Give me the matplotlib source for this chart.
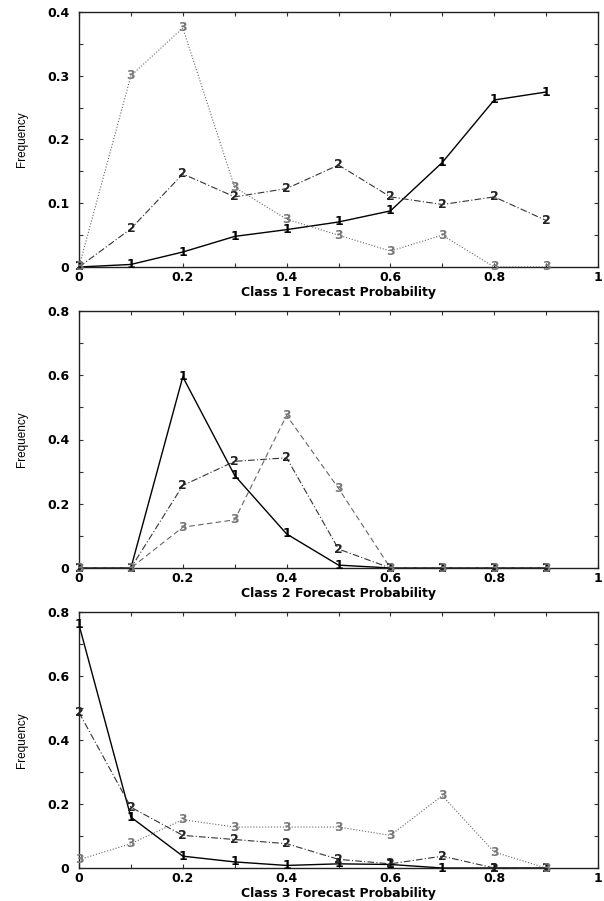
import matplotlib
matplotlib.use("Agg")
import matplotlib.pyplot as plt
from matplotlib.ticker import MultipleLocator, FixedLocator, FixedFormatter

# ---- data ----
x_prob = [0.0, 0.1, 0.2, 0.3, 0.4, 0.5, 0.6, 0.7, 0.8, 0.9]
series_labels = ["1", "2", "3"]

c1_s1 = [0.0, 0.004, 0.0235, 0.048, 0.0586, 0.0706, 0.088, 0.164, 0.262, 0.2745]
c1_s2 = [0.0, 0.060, 0.146, 0.110, 0.123, 0.160, 0.110, 0.098, 0.110, 0.073]
c1_s3 = [0.0, 0.300, 0.375, 0.125, 0.075, 0.050, 0.025, 0.050, 0.0, 0.0]

c2_s1 = [0.0, 0.0, 0.595, 0.288, 0.106, 0.009, 0.0, 0.0, 0.0, 0.0]
c2_s2 = [0.0, 0.0, 0.257, 0.332, 0.343, 0.059, 0.0, 0.0, 0.0, 0.0]
c2_s3 = [0.0, 0.0, 0.127, 0.150, 0.475, 0.248, 0.0, 0.0, 0.0, 0.0]

c3_s1 = [0.76, 0.159, 0.037, 0.019, 0.008, 0.013, 0.011, 0.0, 0.0, 0.0]
c3_s2 = [0.486, 0.190, 0.102, 0.089, 0.076, 0.027, 0.013, 0.037, 0.0, 0.0]
c3_s3 = [0.026, 0.076, 0.151, 0.128, 0.128, 0.128, 0.102, 0.226, 0.050, 0.0]

x_ticks = [0, 0.2, 0.4, 0.6, 0.8, 1]
x_ticklabels = ["0", "0.2", "0.4", "0.6", "0.8", "1"]
y1_ticks = [0, 0.1, 0.2, 0.3, 0.4]
y1_ticklabels = ["0", "0.1", "0.2", "0.3", "0.4"]
y23_ticks = [0, 0.2, 0.4, 0.6, 0.8]
y23_ticklabels = ["0", "0.2", "0.4", "0.6", "0.8"]
xlabels = ["Class 1 Forecast Probability", "Class 2 Forecast Probability",
           "Class 3 Forecast Probability"]
ylabel = "Frequency"

panels = [
    (c1_s1, c1_s2, c1_s3, y1_ticks, y1_ticklabels, 0.4, 0.05, ":"),
    (c2_s1, c2_s2, c2_s3, y23_ticks, y23_ticklabels, 0.8, 0.1, (0, (5, 3))),
    (c3_s1, c3_s2, c3_s3, y23_ticks, y23_ticklabels, 0.8, 0.1, ":"),
]

fig = plt.figure(figsize=(6.04, 9.01), dpi=100)
W, H = 604.0, 901.0
left, right = 79 / W, 598 / W
rects = [(12, 267), (311, 568), (612, 868)]

tick_font = dict(family="DejaVu Sans", weight="bold", size=9)
marker_font = dict(family="DejaVu Sans", weight="bold", size=9)

for i, (s1, s2, s3, yt, ytl, ymax, yminor, s3style) in enumerate(panels):
    top, bot = rects[i]
    ax = fig.add_axes([left, 1 - bot / H, right - left, (bot - top) / H])
    ax.plot(x_prob, s1, color="black", lw=1.0, ls="-")
    ax.plot(x_prob, s2, color="#333333", lw=0.8, ls=(0, (6, 2, 1, 2)))
    ax.plot(x_prob, s3, color="#666666", lw=0.8, ls=s3style)
    for ser, lab, col in zip((s1, s2, s3), series_labels, ("black", "#222222", "#777777")):
        for xv, yv in zip(x_prob, ser):
            ax.text(xv, yv, lab, ha="center", va="center", color=col,
                    clip_on=False, **marker_font)
    ax.set_xlim(0, 1)
    ax.set_ylim(0, ymax)
    ax.xaxis.set_major_locator(FixedLocator(x_ticks))
    ax.xaxis.set_major_formatter(FixedFormatter(x_ticklabels))
    ax.xaxis.set_minor_locator(MultipleLocator(0.1))
    ax.yaxis.set_major_locator(FixedLocator(yt))
    ax.yaxis.set_major_formatter(FixedFormatter(ytl))
    ax.yaxis.set_minor_locator(MultipleLocator(yminor))
    ax.tick_params(which="both", direction="in", top=True, right=True,
                   length=3, width=0.8, color="#333333")
    ax.tick_params(axis="x", which="major", pad=3)
    ax.tick_params(axis="y", which="major", pad=7)
    for lbl in ax.get_xticklabels() + ax.get_yticklabels():
        lbl.set_fontfamily("DejaVu Sans")
        lbl.set_fontweight("bold")
        lbl.set_fontsize(9)
    for sp in ax.spines.values():
        sp.set_linewidth(1.0)
        sp.set_color("#222222")
    ax.set_xlabel(xlabels[i], labelpad=1, **tick_font)
    ax.set_ylabel(ylabel, family="Liberation Sans", size=8.5, labelpad=14)

fig.savefig("out.png", dpi=100, facecolor="white")
